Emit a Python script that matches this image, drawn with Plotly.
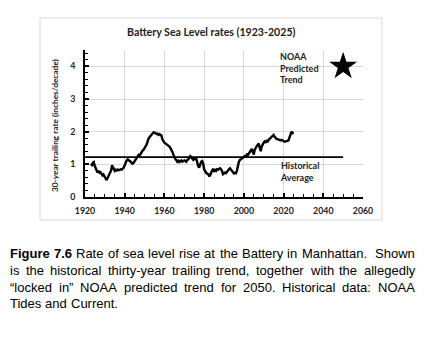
import plotly.graph_objects as go

# ---------------- data ----------------
rate_years = [1923.0, 1923.5, 1924.0, 1924.4, 1924.8, 1925.3, 1925.8, 1926.3, 1926.8, 1927.3,
              1927.8, 1928.3, 1928.8, 1929.3, 1929.8, 1930.3, 1930.8, 1931.2, 1931.7, 1932.2,
              1932.7, 1933.2, 1933.6, 1934.0, 1934.5, 1935.0, 1935.5, 1936.0, 1936.5, 1937.0,
              1937.5, 1938.0, 1938.5, 1939.0, 1939.5, 1940.0, 1940.5, 1941.0, 1941.5, 1942.0,
              1942.5, 1943.0, 1943.5, 1944.0, 1944.5, 1945.0, 1945.5, 1946.0, 1946.5, 1947.0,
              1947.5, 1948.0, 1948.5, 1949.0, 1949.5, 1950.0, 1950.5, 1951.0, 1951.5, 1952.0,
              1952.5, 1953.0, 1953.5, 1954.0, 1954.5, 1955.0, 1955.5, 1956.0, 1956.5, 1957.0,
              1957.5, 1958.0, 1958.5, 1959.0, 1959.5, 1960.0, 1960.5, 1961.0, 1961.5, 1962.0,
              1962.5, 1963.0, 1963.5, 1964.0, 1964.5, 1965.0, 1965.5, 1966.0, 1966.5, 1967.0,
              1967.5, 1968.0, 1968.5, 1969.0, 1969.5, 1970.0, 1970.5, 1971.0, 1971.5, 1972.0,
              1972.5, 1973.0, 1973.5, 1974.0, 1974.5, 1975.0, 1975.5, 1976.0, 1976.5, 1977.0,
              1977.5, 1978.0, 1978.5, 1979.0, 1979.5, 1980.0, 1980.5, 1981.0, 1981.5, 1982.0,
              1982.5, 1983.0, 1983.5, 1984.0, 1984.5, 1985.0, 1985.5, 1986.0, 1986.5, 1987.0,
              1987.5, 1988.0, 1988.5, 1989.0, 1989.5, 1990.0, 1990.5, 1991.0, 1991.5, 1992.0,
              1992.5, 1993.0, 1993.5, 1994.0, 1994.5, 1995.0, 1995.5, 1996.0, 1996.5, 1997.0,
              1997.5, 1998.0, 1998.5, 1999.0, 1999.5, 2000.0, 2000.5, 2001.0, 2001.5, 2002.0,
              2002.5, 2003.0, 2003.5, 2004.0, 2004.5, 2005.0, 2005.5, 2006.0, 2006.5, 2007.0,
              2007.5, 2008.0, 2008.5, 2009.0, 2009.5, 2010.0, 2010.5, 2011.0, 2011.5, 2012.0,
              2012.5, 2013.0, 2013.5, 2014.0, 2014.5, 2015.0, 2015.5, 2016.0, 2016.5, 2017.0,
              2017.5, 2018.0, 2018.5, 2019.0, 2019.5, 2020.0, 2020.5, 2021.0, 2021.5, 2022.0,
              2022.5, 2023.0, 2023.5, 2024.0, 2024.5, 2025.0]
rate_values = [1.02, 0.98, 1.05, 1.07, 0.97, 0.90, 0.78, 0.75, 0.80, 0.74,
               0.76, 0.72, 0.66, 0.69, 0.62, 0.58, 0.52, 0.56, 0.63, 0.68,
               0.74, 0.82, 0.97, 0.92, 0.86, 0.80, 0.83, 0.81, 0.84, 0.82,
               0.83, 0.85, 0.84, 0.87, 0.90, 0.97, 1.06, 1.12, 1.15, 1.13,
               1.12, 1.08, 1.04, 1.02, 1.05, 1.10, 1.15, 1.22, 1.25, 1.29,
               1.27, 1.33, 1.38, 1.42, 1.45, 1.52, 1.55, 1.60, 1.72, 1.79,
               1.83, 1.87, 1.92, 1.95, 1.98, 1.97, 1.95, 1.93, 1.94, 1.90,
               1.92, 1.89, 1.88, 1.76, 1.70, 1.66, 1.64, 1.62, 1.58, 1.57,
               1.54, 1.50, 1.45, 1.38, 1.30, 1.22, 1.16, 1.13, 1.08, 1.11,
               1.07, 1.10, 1.12, 1.08, 1.10, 1.12, 1.10, 1.08, 1.13, 1.15,
               1.20, 1.25, 1.22, 1.18, 1.14, 1.18, 1.16, 1.18, 1.05, 0.95,
               0.90, 1.00, 1.08, 1.10, 1.02, 0.85, 0.78, 0.74, 0.72, 0.70,
               0.65, 0.66, 0.74, 0.82, 0.86, 0.80, 0.83, 0.80, 0.85, 0.84,
               0.87, 0.88, 0.85, 0.80, 0.70, 0.72, 0.75, 0.73, 0.78, 0.80,
               0.85, 0.88, 0.84, 0.78, 0.74, 0.72, 0.74, 0.73, 0.80, 0.95,
               1.08, 1.13, 1.15, 1.18, 1.20, 1.22, 1.25, 1.24, 1.30, 1.28,
               1.34, 1.38, 1.44, 1.47, 1.38, 1.30, 1.45, 1.52, 1.56, 1.60,
               1.64, 1.50, 1.40, 1.55, 1.64, 1.66, 1.70, 1.68, 1.72, 1.70,
               1.75, 1.78, 1.80, 1.85, 1.88, 1.90, 1.84, 1.80, 1.78, 1.77,
               1.75, 1.74, 1.73, 1.75, 1.72, 1.70, 1.69, 1.70, 1.70, 1.72,
               1.74, 1.82, 1.92, 2.00, 1.96, 1.93]

avg_years = [1920, 2050]
avg_value = 1.22

noaa_year = [2050]
noaa_value = [4.0]

x_ticks = [1920, 1940, 1960, 1980, 2000, 2020, 2040, 2060]
y_ticks = [0, 1, 2, 3, 4]

title_text = "Battery Sea Level rates (1923-2025)"
ytitle_text = "30-year trailing rate (inches/decade)"
noaa_label = "NOAA<br>Predicted<br>Trend"
avg_label = "Historical<br>Average"

caption_lines = [
    [("Figure 7.6", True), ("Rate of sea level rise at the Battery in Manhattan.  Shown", False)],
    [("is the historical thirty-year trailing trend, together with the allegedly", False)],
    [("\u201clocked in\u201d NOAA predicted trend for 2050. Historical data: NOAA", False)],
    [("Tides and Current.", False)],
]

# ---------------- layout geometry (pixels) ----------------
W, H = 429, 337
PL, PR, PT, PB = 85, 363, 50, 197
pw, ph = PR - PL, PB - PT


def px_x(px):
    return (px - PL) / pw


def px_y(py):
    return (PB - py) / ph


chart_font = "Lato"

fig = go.Figure()
fig.add_trace(go.Scatter(x=avg_years, y=[avg_value] * len(avg_years), mode="lines",
                         line=dict(color="black", width=1.6), hoverinfo="skip"))
fig.add_trace(go.Scatter(x=rate_years, y=rate_values, mode="lines",
                         line=dict(color="black", width=2.4), hoverinfo="skip"))
fig.add_trace(go.Scatter(x=noaa_year, y=noaa_value, mode="markers",
                         marker=dict(symbol="star", size=21, color="black"), hoverinfo="skip"))

axis_common = dict(showline=True, linecolor="black", linewidth=2, ticks="inside",
                   ticklen=4, tickwidth=1.5, tickcolor="black",
                   gridcolor="#d9d9d9", gridwidth=1, zeroline=False,
                   tickfont=dict(family=chart_font, size=8.8, color="#222222", weight="bold"))

fig.update_xaxes(range=[1920, 2060], tickvals=x_ticks, ticktext=[str(v) for v in x_ticks],
                 minor=dict(dtick=5, ticks="inside", ticklen=3, tickwidth=1.2, tickcolor="black",
                            showgrid=False),
                 ticklabelstandoff=4, **axis_common)
fig.update_yaxes(range=[0, 4.5], tickvals=y_ticks, ticktext=[str(v) for v in y_ticks],
                 minor=dict(dtick=0.2, ticks="inside", ticklen=3, tickwidth=1.2, tickcolor="black",
                            showgrid=False),
                 ticklabelstandoff=6, **axis_common)

annotations = []
annotations.append(dict(text=title_text, x=px_x(211), y=px_y(32), xref="paper", yref="paper",
                        showarrow=False, xanchor="center", yanchor="middle",
                        font=dict(family=chart_font, size=10.6, color="#222222", weight="bold")))
annotations.append(dict(text=ytitle_text, x=px_x(55), y=px_y(126), xref="paper", yref="paper",
                        showarrow=False, textangle=-90, xanchor="center", yanchor="middle",
                        font=dict(family=chart_font, size=8.3, color="#222222", weight="bold")))
annotations.append(dict(text=noaa_label, x=px_x(278), y=px_y(68), xref="paper", yref="paper",
                        showarrow=False, xanchor="left", yanchor="middle", align="left",
                        font=dict(family=chart_font, size=9, color="#222222", weight="bold")))
annotations.append(dict(text=avg_label, x=px_x(278), y=px_y(171), xref="paper", yref="paper",
                        showarrow=False, xanchor="left", yanchor="middle", align="left",
                        font=dict(family=chart_font, size=9, color="#222222", weight="bold")))

# ---------------- justified caption (Arial / Liberation Sans metrics) ----------------
REG = {' ': 278, '!': 278, '"': 355, "'": 191, '(': 333, ')': 333, ',': 278, '-': 333, '.': 278,
       '/': 278, ':': 278, '\u201c': 333, '\u201d': 333,
       'A': 667, 'B': 667, 'C': 722, 'D': 722, 'E': 667, 'F': 611, 'G': 778, 'H': 722, 'I': 278,
       'J': 500, 'K': 667, 'L': 556, 'M': 833, 'N': 722, 'O': 778, 'P': 667, 'Q': 778, 'R': 722,
       'S': 667, 'T': 611, 'U': 722, 'V': 667, 'W': 944, 'X': 667, 'Y': 667, 'Z': 611,
       'a': 556, 'b': 556, 'c': 500, 'd': 556, 'e': 556, 'f': 278, 'g': 556, 'h': 556, 'i': 222,
       'j': 222, 'k': 500, 'l': 222, 'm': 833, 'n': 556, 'o': 556, 'p': 556, 'q': 556, 'r': 333,
       's': 500, 't': 278, 'u': 556, 'v': 500, 'w': 722, 'x': 500, 'y': 500, 'z': 500}
for d in "0123456789":
    REG[d] = 556
BOLD = dict(REG)
BOLD.update({'F': 611, 'i': 278, 'g': 611, 'u': 611, 'r': 389, 'e': 556})

cap_size = 13
cap_left, cap_right = 10, 415
cap_y = [253, 270, 287, 303]
cap_font = "Liberation Sans, Arial, sans-serif"


def text_w(s, bold):
    tab = BOLD if bold else REG
    return sum(tab.get(c, 556) for c in s) * cap_size / 1000.0


for li, segs in enumerate(caption_lines):
    words = []
    first = True
    for text, bold in segs:
        parts = text.split(" ")
        pending = 0 if first else 1
        for p in parts:
            if p == "":
                pending += 1
                continue
            words.append([p, bold, pending if words else 0])
            pending = 1
        first = False
    nat = sum(text_w(w[0], w[1]) for w in words)
    nsp = sum(w[2] for w in words)
    sp = 278 * cap_size / 1000.0
    last = li == len(caption_lines) - 1
    if not last and nsp > 0:
        sp = (cap_right - cap_left - nat) / nsp
    x = cap_left
    for wtxt, bold, nspace in words:
        x += nspace * sp
        annotations.append(dict(text=wtxt, x=px_x(x), y=px_y(cap_y[li]), xref="paper", yref="paper",
                                showarrow=False, xanchor="left", yanchor="middle",
                                borderpad=0, borderwidth=0,
                                font=dict(family=cap_font, size=cap_size, color="black",
                                          weight="bold" if bold else "normal")))
        x += text_w(wtxt, bold)

shapes = [dict(type="rect", xref="paper", yref="paper",
               x0=px_x(40), x1=px_x(382), y0=px_y(220), y1=px_y(18),
               line=dict(color="#d9d9d9", width=1), fillcolor="rgba(0,0,0,0)", layer="below")]

fig.update_layout(width=W, height=H, autosize=False,
                  margin=dict(l=PL, r=W - PR, t=PT, b=H - PB, pad=0),
                  paper_bgcolor="white", plot_bgcolor="white",
                  showlegend=False, annotations=annotations, shapes=shapes)

fig.write_html("out.html", config={"displayModeBar": False})
